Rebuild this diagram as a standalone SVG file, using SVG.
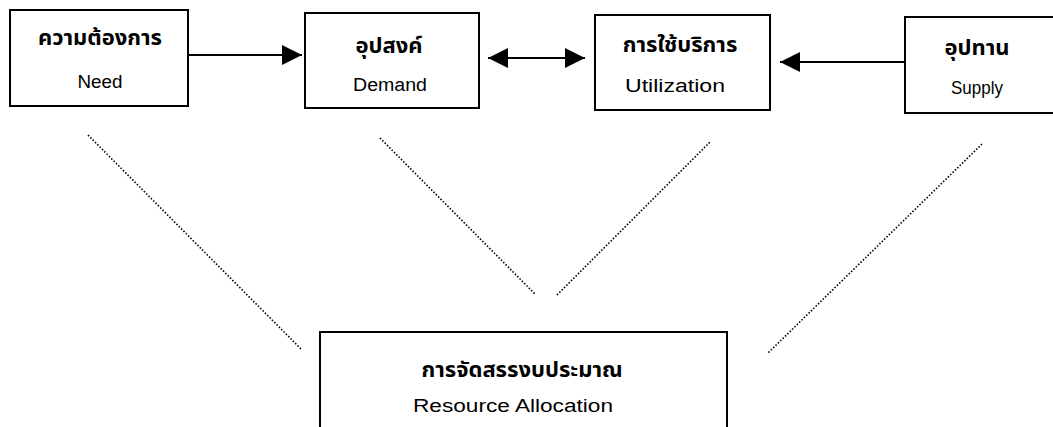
<svg xmlns="http://www.w3.org/2000/svg" width="1053" height="427" viewBox="0 0 1053 427">
<style>
.box{fill:#fff;stroke:#000;stroke-width:2}
.th{font-family:"Noto Sans Thai","Loma","Garuda","Liberation Sans",sans-serif;font-size:22px;font-weight:bold;text-anchor:middle;fill:#000}
.en{font-family:"Liberation Sans",Arial,sans-serif;font-size:18px;text-anchor:middle;fill:#000}
.arr{stroke:#000;stroke-width:2;fill:none}
.dot{stroke:#000;stroke-width:1.6;stroke-dasharray:1.5 1.8;fill:none}
</style>
<defs>
<marker id="ah" viewBox="0 0 20 20" refX="20" refY="10" markerWidth="20" markerHeight="20" markerUnits="userSpaceOnUse" orient="auto-start-reverse">
<path d="M0,0 L20,10 L0,20 Z" fill="#000"/>
</marker>
</defs>
<rect width="1053" height="427" fill="#fff"/>
<g id="connectors">
<line class="arr" x1="188" y1="55" x2="302" y2="55" marker-end="url(#ah)"/>
<line class="arr" x1="488" y1="58" x2="585" y2="58" marker-start="url(#ah)" marker-end="url(#ah)"/>
<line class="arr" x1="904" y1="62" x2="780" y2="62" marker-end="url(#ah)"/>
<line class="dot" x1="88" y1="135" x2="302" y2="350"/>
<line class="dot" x1="380" y1="138" x2="535" y2="294"/>
<line class="dot" x1="557" y1="295" x2="710" y2="142"/>
<line class="dot" x1="982" y1="144" x2="768" y2="353"/>
</g>
<g id="need">
<rect class="box" x="10" y="10" width="178" height="96"/>
<text class="th" x="100" y="45">ความต้องการ</text>
<text class="en" x="100" y="88" textLength="45" lengthAdjust="spacingAndGlyphs">Need</text>
</g>
<g id="demand">
<rect class="box" x="305" y="13" width="174" height="95"/>
<text class="th" x="389" y="53">อุปสงค์</text>
<text class="en" x="390" y="91" textLength="74" lengthAdjust="spacingAndGlyphs">Demand</text>
</g>
<g id="utilization">
<rect class="box" x="595" y="15" width="175" height="95"/>
<text class="th" x="680" y="52">การใช้บริการ</text>
<text class="en" x="675" y="92" textLength="100" lengthAdjust="spacingAndGlyphs">Utilization</text>
</g>
<g id="supply">
<rect class="box" x="905" y="17" width="160" height="96"/>
<text class="th" x="977" y="55">อุปทาน</text>
<text class="en" x="977" y="94" textLength="52" lengthAdjust="spacingAndGlyphs">Supply</text>
</g>
<g id="allocation">
<rect class="box" x="320" y="332" width="407" height="110"/>
<text class="th" x="522" y="377">การจัดสรรงบประมาณ</text>
<text class="en" x="513" y="412" textLength="200" lengthAdjust="spacingAndGlyphs">Resource Allocation</text>
</g>
</svg>
